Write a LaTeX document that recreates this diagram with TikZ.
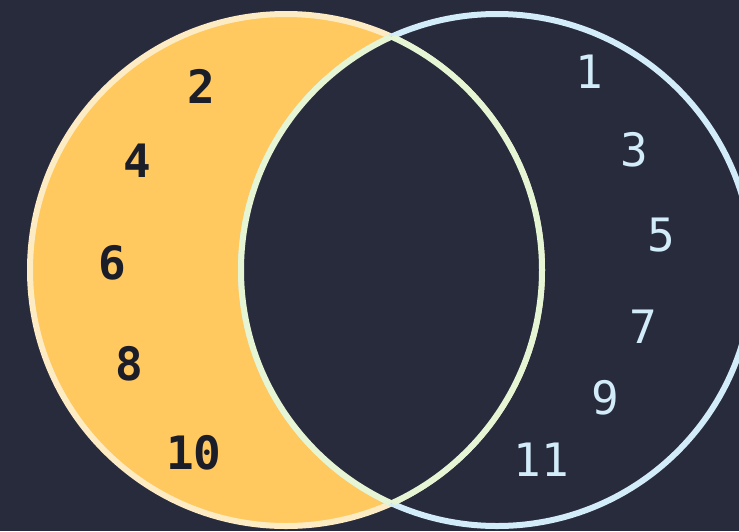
\documentclass[tikz,border=0pt]{standalone}
\usepackage{fontspec}
\setmonofont{DejaVu Sans Mono}
\definecolor{bg}{HTML}{282B3C}
\definecolor{orangefill}{HTML}{FFC95F}
\definecolor{cream}{HTML}{FDEBC3}
\definecolor{skyline}{HTML}{D2ECFA}
\definecolor{lensline}{HTML}{E6F5D3}
\definecolor{darktext}{HTML}{1B1D29}
\begin{document}
\begin{tikzpicture}[x=1pt,y=-1pt,
  evennum/.style={font=\ttfamily\bfseries\fontsize{46}{46}\selectfont, text=darktext, inner sep=0pt},
  oddnum/.style={font=\ttfamily\fontsize{46}{46}\selectfont, text=skyline, inner sep=0pt},
  ring/.style={line width=6pt}]
\fill[bg] (0,0) rectangle (739,531);
\useasboundingbox (0,0) rectangle (739,531);
% left circle
\fill[orangefill] (286,270) circle (256);
\draw[ring, cream] (286,270) circle (256);
% right circle
\draw[ring, skyline] (497,270) circle (256);
% lens
\begin{scope}
  \clip (286,270) circle (256);
  \fill[bg] (497,270) circle (256);
  \draw[ring, lensline] (497,270) circle (256);
\end{scope}
\begin{scope}
  \clip (497,270) circle (256);
  \draw[ring, lensline] (286,270) circle (256);
\end{scope}
% even numbers
\node[evennum] (n2) at (201,86) {2};
\node[evennum] (n4) at (137,161) {4};
\node[evennum] (n6) at (112,263) {6};
\node[evennum] (n8) at (129,364) {8};
\node[evennum] (n10) at (194,453) {10};
% odd numbers
\node[oddnum] (n1) at (589,72) {1};
\node[oddnum] (n3) at (634,150) {3};
\node[oddnum] (n5) at (661,235) {5};
\node[oddnum] (n7) at (643,327) {7};
\node[oddnum] (n9) at (605,398) {9};
\node[oddnum] (n11) at (541,460) {11};
\end{tikzpicture}
\end{document}
